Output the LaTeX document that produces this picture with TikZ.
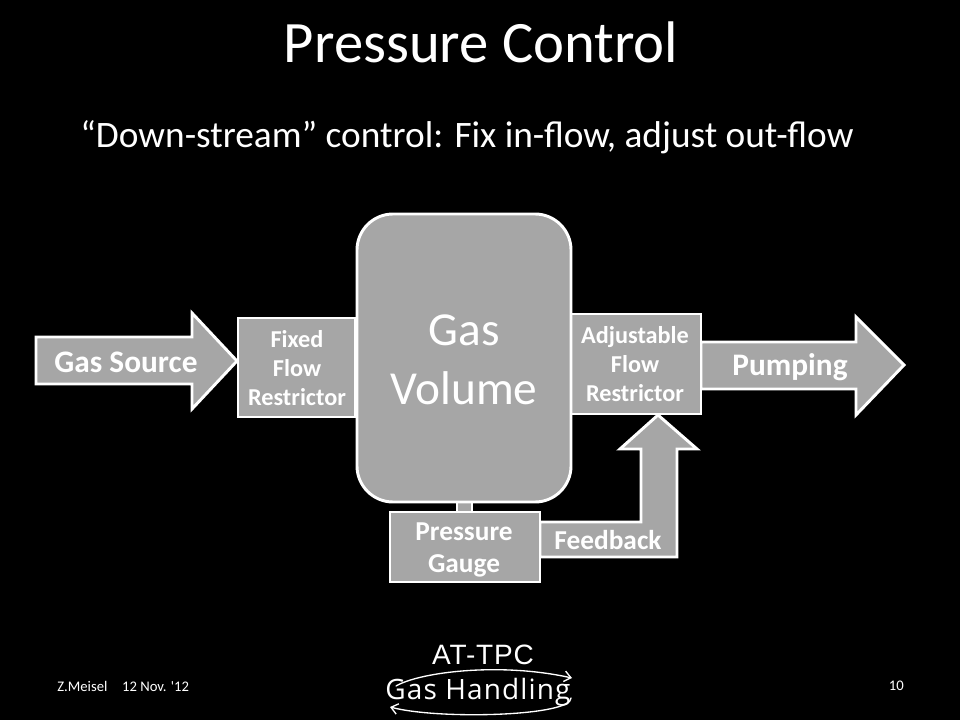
\documentclass[tikz,border=0pt]{standalone}
\usepackage{fontspec}
\setmainfont{Carlito}
\newfontfamily\footf{Carlito}
\newfontfamily\logoa[LetterSpace=3]{Liberation Sans}
\newfontfamily\logob[LetterSpace=4]{Open Sans}
\usetikzlibrary{arrows.meta}
\definecolor{fillgray}{HTML}{A6A6A6}
\tikzset{
 x=0.75pt,y=-0.75pt,
 shapebox/.style={draw=white,fill=fillgray,line width=2.2pt,line join=miter},
 lab/.style={text=white,align=center,inner sep=0pt},
 logoline/.style={draw=white,line width=1pt,line cap=round,-{Straight Barb[length=5pt,width=8pt]}},
}
\begin{document}
\begin{tikzpicture}
\useasboundingbox[fill=black] (0,0) rectangle (960,720);
\node[text=white,font=\fontsize{44}{50}\selectfont,inner sep=0pt] (title) at (481,42) {Pressure Control};
\node[text=white,font=\fontsize{28}{32}\selectfont,inner sep=0pt] (sub) at (467,137) {“Down-stream” control: Fix in-flow, adjust out-flow};
% stem
\draw[shapebox] (457,500) rectangle (472,514);
% arrows
\draw[shapebox] (36,337) -- (192,337) -- (192,313) -- (237,361) -- (192,409) -- (192,384) -- (36,384) -- cycle;
\draw[shapebox] (701,342) -- (856,342) -- (856,317) -- (904,365) -- (856,415) -- (856,389) -- (701,389) -- cycle;
\draw[shapebox] (540,522) -- (641,522) -- (641,449) -- (620,449) -- (658,415) -- (697,449) -- (677,449) -- (677,557) -- (540,557) -- cycle;
% boxes
\draw[shapebox] (238,318) rectangle (355,417);
\draw[shapebox] (569,314) rectangle (701,414);
\draw[shapebox] (390,512) rectangle (540,582);
\draw[shapebox,rounded corners=27pt] (357,214) rectangle (571,502);
\node[lab,font=\bfseries\fontsize{23.5}{24}\selectfont] (gs) at (126,362) {Gas Source};
\node[lab,font=\bfseries\fontsize{23.5}{24}\selectfont] (pu) at (790,367) {Pumping};
\node[lab,font=\bfseries\fontsize{20.5}{22}\selectfont] (fb) at (608,540) {Feedback};
\node[lab,font=\bfseries\fontsize{18.2}{21.75}\selectfont] (fx) at (297,368) {Fixed\\Flow\\Restrictor};
\node[lab,font=\bfseries\fontsize{18.2}{21.75}\selectfont] (ad) at (635,364) {Adjustable\\Flow\\Restrictor};
\node[lab,font=\bfseries\fontsize{20.5}{24}\selectfont] (pg) at (464,550) {Pressure\\Gauge};
\node[text=white,align=center,inner sep=0pt,font=\fontsize{35.5}{44}\selectfont] (gv) at (464,360) {Gas\\Volume};
\node[text=white,font=\footf\fontsize{11}{12}\selectfont,inner sep=0pt,anchor=west] (au) at (57,686) {Z.Meisel\quad 12 Nov. '12};
\node[text=white,font=\footf\fontsize{11}{12}\selectfont,inner sep=0pt,anchor=east] (pn) at (904,686) {10};
% logo
\node[text=white,font=\logoa\fontsize{21}{21}\selectfont,inner sep=0pt] (la) at (483,655) {AT-TPC};
\node[text=white,font=\logob\fontsize{21}{21}\selectfont,inner sep=0pt] (lb) at (478,692) {Gas Handling};
\coordinate (c1) at (572,678);
\coordinate (c2) at (390,707);
\draw[logoline] (396,686) .. controls (420,672) and (500,662) .. (c1);
\draw[logoline] (571,698) .. controls (572,716) and (440,720) .. (c2);
\end{tikzpicture}
\end{document}
